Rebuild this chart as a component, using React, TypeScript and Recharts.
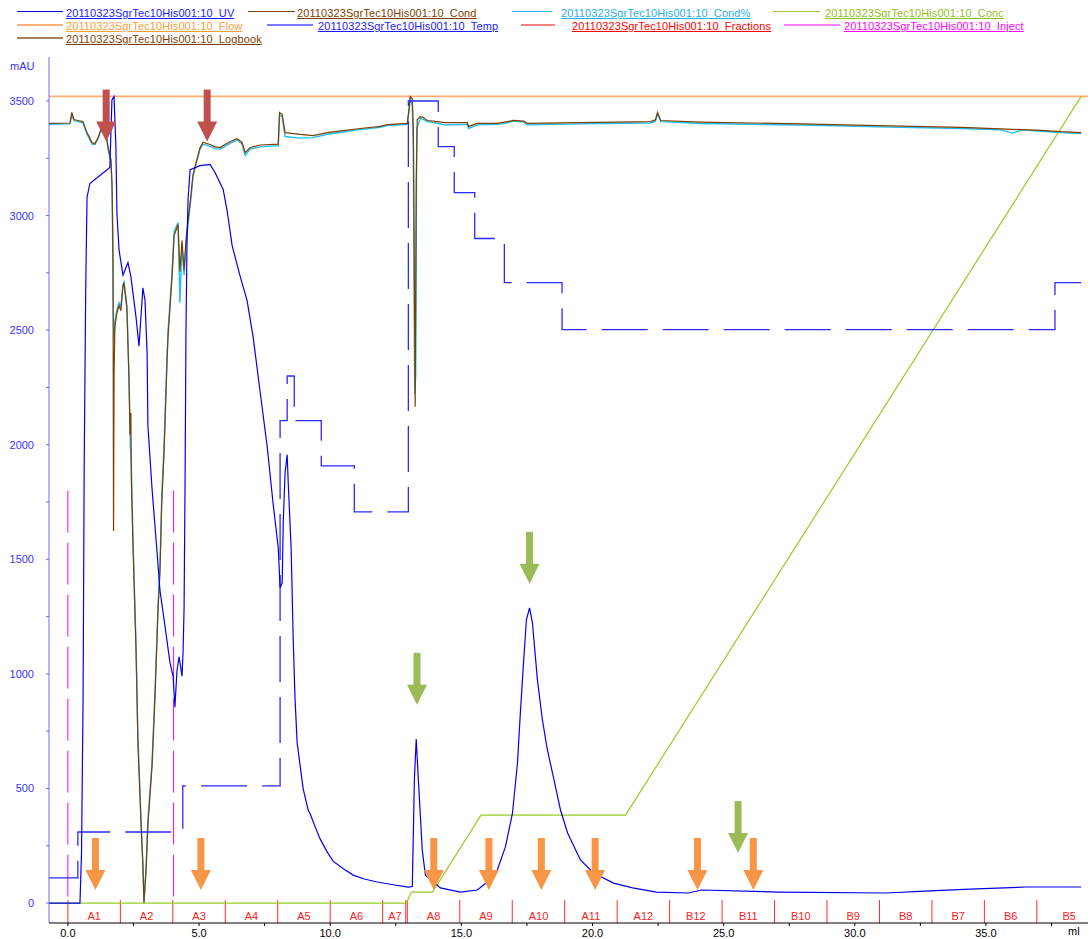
import React from 'react';
import { ComposedChart, Line, Scatter, XAxis, YAxis, ReferenceLine } from 'recharts';

const FONT = '"Liberation Sans", Arial, sans-serif';
const RUN = '20110323SgrTec10His001:10_';

const X_DOMAIN: [number, number] = [-0.72, 38.89];
const Y_DOMAIN: [number, number] = [-87, 3692];
const X_TICKS = [0, 2.5, 5, 7.5, 10, 12.5, 15, 17.5, 20, 22.5, 25, 27.5, 30, 32.5, 35, 37.5];
const Y_TICKS = [0, 250, 500, 750, 1000, 1250, 1500, 1750, 2000, 2250, 2500, 2750, 3000, 3250, 3500];

// UV (mAU) against volume (ml)
const uvPoints: [number, number][] = [
  [-0.72, 0], [0.46, 0], [0.52, 220], [0.58, 900], [0.62, 1880], [0.68, 2680], [0.73, 3080],
  [0.84, 3140], [1.22, 3175], [1.6, 3210], [1.68, 3505], [1.76, 3520], [1.83, 3300], [1.87, 3010],
  [1.95, 2850], [2.1, 2740], [2.29, 2795], [2.4, 2735], [2.6, 2555], [2.71, 2430], [2.86, 2685],
  [2.94, 2630], [3.02, 2400], [3.05, 2085], [3.21, 1805], [3.4, 1530], [3.51, 1365], [3.7, 1210],
  [3.89, 1050], [4.01, 990], [4.08, 855], [4.16, 1015], [4.24, 1075], [4.35, 990], [4.39, 1090],
  [4.43, 1290], [4.47, 1880], [4.5, 2475], [4.54, 2870], [4.58, 3070], [4.66, 3200], [5.04, 3218],
  [5.42, 3223], [5.61, 3188], [5.92, 3114], [6.07, 3022], [6.26, 2870], [6.56, 2738], [6.83, 2630],
  [7.06, 2472], [7.33, 2230], [7.6, 1990], [7.82, 1747], [8.02, 1550], [8.09, 1376], [8.17, 1397],
  [8.21, 1660], [8.28, 1878], [8.36, 1956], [8.4, 1834], [8.51, 1550], [8.59, 1153], [8.66, 890],
  [8.74, 700], [8.85, 603], [8.97, 498], [9.16, 406], [9.24, 389], [9.4, 340], [9.62, 279],
  [9.9, 220], [10.11, 183], [10.5, 150], [10.88, 122], [11.3, 105], [11.79, 92], [12.4, 80],
  [12.98, 70], [13.13, 72], [13.21, 541], [13.28, 716], [13.36, 541], [13.51, 231], [13.63, 122],
  [14.2, 66], [14.96, 48], [15.61, 57], [15.99, 92], [16.37, 144], [16.68, 245], [16.95, 393],
  [17.14, 611], [17.25, 830], [17.37, 1048], [17.48, 1236], [17.6, 1288], [17.71, 1223], [17.9, 974],
  [18.09, 799], [18.28, 668], [18.51, 550], [18.78, 406], [19.05, 306], [19.54, 188], [20.04, 131],
  [20.8, 87], [21.53, 66], [22.44, 48], [23.66, 44], [24.16, 57], [27.1, 48], [31.22, 44],
  [32.67, 52], [34.39, 61], [36.53, 70], [38.63, 70],
];

const condPoints: [number, number][] = [
  [-0.72, 3402], [0.08, 3404], [0.15, 3450], [0.23, 3419], [0.38, 3415], [0.57, 3410], [0.73, 3362],
  [0.92, 3319], [1.03, 3314], [1.15, 3340], [1.3, 3389], [1.37, 3410], [1.45, 3362], [1.53, 3301],
  [1.64, 3245], [1.68, 3144], [1.72, 2852], [1.74, 1624], [1.76, 2300], [1.79, 2515], [1.87, 2576],
  [1.95, 2607], [2.02, 2585], [2.1, 2694], [2.14, 2703], [2.25, 2594], [2.33, 2279], [2.37, 2044],
  [2.4, 2140], [2.42, 1843], [2.48, 1568], [2.6, 1092], [2.67, 699], [2.79, 341], [2.86, 162],
  [2.9, 0], [2.98, 144], [3.05, 341], [3.21, 598], [3.32, 895], [3.44, 1288], [3.51, 1441],
  [3.58, 1750], [3.66, 1950], [3.7, 2083], [3.78, 2362], [3.82, 2476], [3.97, 2730], [4.05, 2913],
  [4.2, 2961], [4.27, 2755], [4.35, 2891], [4.43, 2760], [4.5, 2891], [4.58, 2978], [4.69, 3087],
  [4.77, 3179], [4.92, 3245], [5.04, 3297], [5.15, 3320], [5.42, 3310], [5.61, 3300], [5.8, 3297],
  [5.99, 3310], [6.18, 3322], [6.45, 3336], [6.64, 3319], [6.76, 3275], [6.95, 3297], [7.33, 3308],
  [8.02, 3312], [8.07, 3450], [8.17, 3441], [8.28, 3362], [8.85, 3354], [9.35, 3349], [9.89, 3362],
  [10.5, 3371], [11.15, 3380], [11.91, 3389], [12.18, 3397], [12.94, 3402], [13.02, 3480],
  [13.05, 3520], [13.13, 3510], [13.17, 3376], [13.24, 2166], [13.28, 3144], [13.32, 3419],
  [13.44, 3432], [13.55, 3428], [13.7, 3415], [14.08, 3410], [14.39, 3406], [15.23, 3406],
  [15.27, 3389], [15.61, 3402], [16.37, 3402], [16.76, 3410], [16.98, 3415], [17.37, 3412],
  [17.52, 3402], [19.54, 3406], [22.21, 3410], [22.4, 3418], [22.48, 3450], [22.6, 3415],
  [24.12, 3408], [27.94, 3400], [31.76, 3390], [34.05, 3385], [35.57, 3378], [37.1, 3372],
  [37.86, 3366], [38.63, 3362],
];

const condPctPoints: [number, number][] = [
  [-0.72, 3398], [0.08, 3400], [0.15, 3440], [0.23, 3415], [0.38, 3410], [0.57, 3405], [0.73, 3355],
  [0.92, 3312], [1.03, 3310], [1.15, 3335], [1.3, 3385], [1.37, 3405], [1.45, 3355], [1.53, 3290],
  [1.64, 3235], [1.69, 3100], [1.73, 2600], [1.76, 2450], [1.8, 2540], [1.87, 2590], [1.95, 2620],
  [2.02, 2600], [2.1, 2700], [2.14, 2710], [2.25, 2610], [2.33, 2300], [2.38, 2000], [2.42, 1900],
  [2.48, 1600], [2.6, 1120], [2.67, 720], [2.79, 360], [2.86, 170], [2.9, 5], [2.98, 150],
  [3.05, 360], [3.21, 620], [3.32, 920], [3.44, 1310], [3.51, 1470], [3.58, 1780], [3.66, 1980],
  [3.7, 2110], [3.78, 2390], [3.82, 2500], [3.97, 2750], [4.05, 2930], [4.2, 2970], [4.27, 2620],
  [4.35, 2870], [4.43, 2740], [4.5, 2870], [4.58, 2960], [4.69, 3075], [4.77, 3170], [4.92, 3240],
  [5.04, 3290], [5.15, 3312], [5.42, 3302], [5.61, 3292], [5.8, 3290], [5.99, 3302], [6.18, 3315],
  [6.45, 3330], [6.64, 3312], [6.76, 3262], [6.95, 3290], [7.33, 3300], [8.02, 3305], [8.07, 3440],
  [8.17, 3432], [8.28, 3345], [8.85, 3338], [9.35, 3340], [9.89, 3355], [10.5, 3365], [11.15, 3375],
  [11.91, 3385], [12.18, 3393], [12.94, 3398], [13.02, 3470], [13.05, 3515], [13.13, 3480],
  [13.17, 3300], [13.22, 2220], [13.26, 2300], [13.3, 3380], [13.44, 3425], [13.55, 3420],
  [13.7, 3410], [14.08, 3403], [14.39, 3395], [15.23, 3398], [15.27, 3380], [15.61, 3396],
  [16.37, 3398], [16.76, 3405], [16.98, 3412], [17.37, 3408], [17.52, 3396], [19.54, 3400],
  [22.21, 3404], [22.4, 3412], [22.48, 3445], [22.6, 3410], [24.12, 3402], [27.94, 3395],
  [31.76, 3385], [34.05, 3380], [35.57, 3374], [36.0, 3360], [36.4, 3374], [37.1, 3368],
  [37.86, 3362], [38.63, 3358],
];

const concPoints: [number, number][] = [
  [-0.72, 0], [12.9, 0], [13.1, 48], [13.9, 48], [15.75, 384], [21.26, 384], [38.63, 3520],
];

const flowPoints: [number, number][] = [[-0.72, 3520], [38.89, 3520]];

// step values (held until next point)
const tempSteps: [number, number][] = [
  [-0.72, 110], [0.38, 310], [4.38, 511], [8.09, 2105], [8.36, 2300], [8.63, 2105], [9.66, 1908],
  [10.92, 1707], [12.98, 3500], [14.12, 3301], [14.73, 3100], [15.51, 2900], [16.64, 2707],
  [18.84, 2502], [37.63, 2707], [38.63, 2707],
];

const injectAt = [0.0, 4.03];
const injectTop = 1800;

const fractionStarts = [0, 2, 4, 6, 8, 10, 12, 12.94, 14.94, 16.94, 18.94, 20.94, 22.94, 24.94, 26.94, 28.94, 30.94, 32.94, 34.94, 36.94];
const fractionEnd = 39.4;
const fractionExtraTicks = [12.88];
const fractionNames = ['A1', 'A2', 'A3', 'A4', 'A5', 'A6', 'A7', 'A8', 'A9', 'A10', 'A11', 'A12', 'B12', 'B11', 'B10', 'B9', 'B8', 'B7', 'B6', 'B5'];

const redArrows: [number, number][] = [[1.46, 3323], [5.31, 3323]];
const greenArrows: [number, number][] = [[13.31, 865], [17.6, 1393], [25.55, 218]];
const orangeArrows: [number, number][] = [[1.05, 57], [5.07, 57], [13.95, 57], [16.05, 57], [18.05, 57], [20.1, 57], [24.0, 57], [26.13, 57]];

const legendItems = [
  { label: RUN + 'UV', line: '#0000e0', text: '#1a1aff', lw: 1 },
  { label: RUN + 'Cond', line: '#7f3f00', text: '#7f3f00', lw: 1 },
  { label: RUN + 'Cond%', line: '#22b4ee', text: '#1fb0ea', lw: 1 },
  { label: RUN + 'Conc', line: '#99cc33', text: '#8fc21d', lw: 1 },
  { label: RUN + 'Flow', line: '#ffb27a', text: '#f7a040', lw: 2 },
  { label: RUN + 'Temp', line: '#7a7aff', text: '#1a1aff', lw: 2 },
  { label: RUN + 'Fractions', line: '#f48080', text: '#ff0000', lw: 2 },
  { label: RUN + 'Inject', line: '#ff80ff', text: '#ff00ff', lw: 2 },
  { label: RUN + 'Logbook', line: '#a38060', text: '#7f3f00', lw: 2 },
];
// [lineLeft, lineWidth, textLeft, rowCenterY]
const legendLayout: [number, number, number, number][] = [
  [17, 46, 66, 14], [248, 47, 297, 14], [512, 40, 561, 14], [773, 47, 825, 14],
  [17, 46, 66, 27], [267, 46, 318, 27], [521, 34, 572, 27], [784, 56, 844, 27],
  [17, 46, 66, 40],
];

const pts = (a: [number, number][]) => a.map(([x, y]) => ({ x, y }));

function arrowShape(color: string) {
  return (p: any) => {
    const { cx, cy } = p;
    if (cx == null || cy == null) return <g />;
    return (
      <g>
        <rect x={cx - 3.5} y={cy - 52} width={7} height={33} fill={color} />
        <polygon points={`${cx - 10},${cy - 20} ${cx + 10},${cy - 20} ${cx},${cy}`} fill={color} />
      </g>
    );
  };
}

function fractionLabel(p: any) {
  const { cx, cy, payload } = p;
  if (cx == null) return <g />;
  return (
    <text x={cx} y={cy} textAnchor="middle" dominantBaseline="central" fill="#ff2020" fontSize={11} fontFamily={FONT}>
      {payload.name}
    </text>
  );
}

function XTick(p: any) {
  const { x, y, payload } = p;
  const v = payload.value;
  if (Math.abs(v % 5) > 1e-6) return <g />;
  return (
    <text x={x} y={y} dy="0.71em" textAnchor="middle" fill="#000" fontSize={11} fontFamily={FONT}>
      {v.toFixed(1)}
    </text>
  );
}

function YTick(p: any) {
  const { x, y, payload } = p;
  const v = payload.value;
  if (v % 500 !== 0) return <g />;
  return (
    <text x={x} y={y} dy="0.36em" textAnchor="end" fill="#3535ff" fontSize={11} fontFamily={FONT}>
      {v}
    </text>
  );
}

export default function App() {
  const fractionLabels = fractionNames.map((name, i) => ({
    name,
    x: (fractionStarts[i] + (fractionStarts[i + 1] ?? fractionEnd)) / 2,
    y: -57,
  }));
  const fractionTicks = [...fractionStarts, ...fractionExtraTicks];

  return (
    <div style={{ position: 'absolute', left: 0, top: 0, width: 1090, height: 939, overflow: 'hidden', background: '#fff', fontFamily: FONT }}>
      {legendItems.map((it, i) => {
        const [lx, lw, tx, cy] = legendLayout[i];
        return (
          <React.Fragment key={it.label}>
            <div style={{ position: 'absolute', left: lx, top: cy - 3, width: lw, height: 0, borderTop: `${it.lw}px solid ${it.line}` }} />
            <div style={{ position: 'absolute', left: tx, top: cy - 7, fontSize: 11, lineHeight: '13px', letterSpacing: 0.1, color: it.text, textDecoration: 'underline', whiteSpace: 'nowrap' }}>
              {it.label}
            </div>
          </React.Fragment>
        );
      })}
      <div style={{ position: 'absolute', left: 10, top: 60, fontSize: 11, lineHeight: '13px', color: '#3535ff' }}>mAU</div>
      <div style={{ position: 'absolute', left: 1068, top: 925, fontSize: 11, lineHeight: '13px', color: '#000' }}>ml</div>

      <div style={{ position: 'absolute', left: 0, top: 0 }}>
        <ComposedChart width={1090} height={945} margin={{ top: 57, right: 2, bottom: 0, left: 0 }}>
          <XAxis
            type="number"
            dataKey="x"
            domain={X_DOMAIN}
            allowDataOverflow
            ticks={X_TICKS}
            interval={0}
            height={22}
            tickSize={3}
            tickMargin={3}
            stroke="#000"
            tick={<XTick />}
          />
          <YAxis
            type="number"
            domain={Y_DOMAIN}
            allowDataOverflow
            ticks={Y_TICKS}
            interval={0}
            width={49}
            tickSize={3}
            tickMargin={12}
            stroke="#6a6aff"
            tick={<YTick />}
          />
          {fractionTicks.map((f) => (
            <ReferenceLine key={'f' + f} segment={[{ x: f, y: 13 }, { x: f, y: -87 }]} stroke="#ff2a2a" strokeWidth={1} />
          ))}
          {injectAt.map((v) => (
            <ReferenceLine key={'i' + v} segment={[{ x: v, y: injectTop }, { x: v, y: 0 }]} stroke="#ff00ff" strokeWidth={1} strokeDasharray="42 10" />
          ))}
          <Line data={pts(flowPoints)} dataKey="y" stroke="#ffb070" strokeWidth={1.6} dot={false} isAnimationActive={false} />
          <Line data={pts(concPoints)} dataKey="y" stroke="#99cc22" strokeWidth={1.2} dot={false} isAnimationActive={false} />
          <Line data={pts(condPctPoints)} dataKey="y" stroke="#1fc0f0" strokeWidth={1.4} dot={false} isAnimationActive={false} />
          <Line data={pts(condPoints)} dataKey="y" stroke="#7b3f00" strokeWidth={1.2} dot={false} isAnimationActive={false} />
          <Line data={pts(tempSteps)} type="stepAfter" dataKey="y" stroke="#2a2aff" strokeWidth={1.3} strokeDasharray="46 15" dot={false} isAnimationActive={false} />
          <Line data={pts(uvPoints)} dataKey="y" stroke="#0000f0" strokeWidth={1.2} dot={false} isAnimationActive={false} />
          <Scatter data={fractionLabels} dataKey="y" shape={fractionLabel} isAnimationActive={false} />
          <Scatter data={pts(redArrows)} dataKey="y" shape={arrowShape('#c0504d')} isAnimationActive={false} />
          <Scatter data={pts(greenArrows)} dataKey="y" shape={arrowShape('#9bbb59')} isAnimationActive={false} />
          <Scatter data={pts(orangeArrows)} dataKey="y" shape={arrowShape('#f79646')} isAnimationActive={false} />
        </ComposedChart>
      </div>
    </div>
  );
}
